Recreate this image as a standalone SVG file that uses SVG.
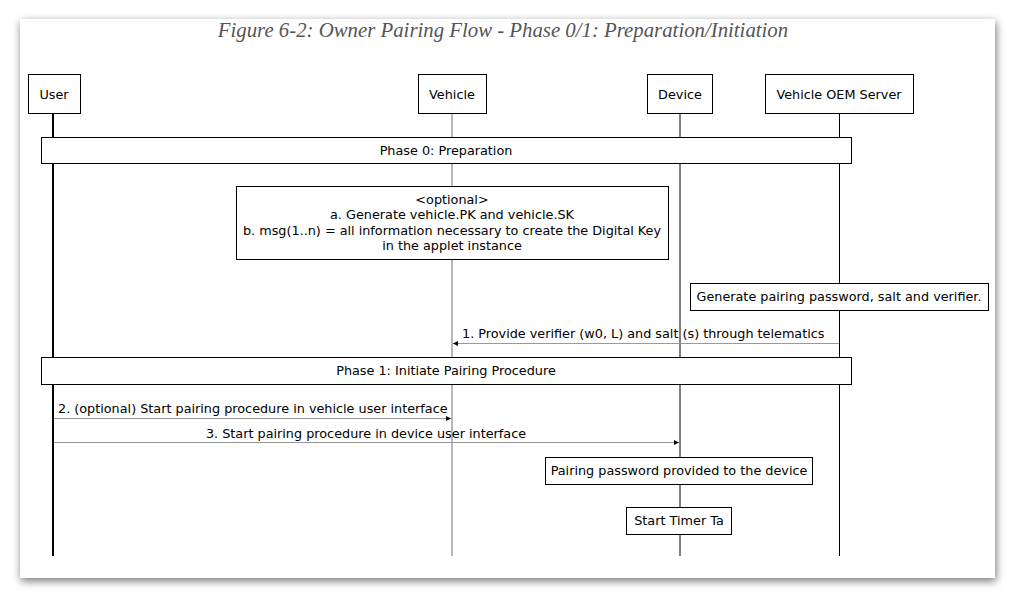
<svg xmlns="http://www.w3.org/2000/svg" width="1015" height="598" viewBox="0 0 1015 598">
<defs>
<filter id="sh" x="-5%" y="-5%" width="110%" height="115%">
<feDropShadow dx="1" dy="3" stdDeviation="4" flood-color="#000" flood-opacity="0.55"/>
</filter>
<marker id="ah" markerWidth="6" markerHeight="6" refX="5" refY="3" orient="auto" markerUnits="userSpaceOnUse">
<path d="M0,0.5 L5,3 L0,5.5 z" fill="#000"/>
</marker>
<style>
.t{font-family:"DejaVu Sans",Verdana,sans-serif;font-size:12.8px;fill:#000}
.box{fill:#fff;stroke:#000;stroke-width:1}
.msg{stroke:#999;stroke-width:1;fill:none}
</style>
</defs>
<rect x="0" y="0" width="1015" height="598" fill="#fff"/>
<rect x="20" y="19" width="975" height="559" fill="#fff" filter="url(#sh)"/>
<text x="503" y="37" text-anchor="middle" font-family="'Liberation Serif',serif" font-style="italic" font-size="20.8" fill="#555">Figure 6-2: Owner Pairing Flow - Phase 0/1: Preparation/Initiation</text>

<g id="lifelines">
<line x1="53" y1="113" x2="53" y2="556" stroke="#000" stroke-width="2"/>
<line x1="452" y1="113" x2="452" y2="556" stroke="#888" stroke-width="1.2"/>
<line x1="680" y1="113" x2="680" y2="556" stroke="#000" stroke-width="1"/>
<line x1="839.5" y1="113" x2="839.5" y2="556" stroke="#000" stroke-width="1"/>
</g>

<g id="user"><rect class="box" x="28.5" y="74.5" width="52" height="39"/><text class="t" x="54" y="99" text-anchor="middle">User</text></g>
<g id="vehicle"><rect class="box" x="418.5" y="74.5" width="68" height="39"/><text class="t" x="452" y="99" text-anchor="middle">Vehicle</text></g>
<g id="device"><rect class="box" x="647.5" y="74.5" width="65" height="39"/><text class="t" x="680" y="99" text-anchor="middle">Device</text></g>
<g id="oem"><rect class="box" x="765.5" y="74.5" width="148" height="39"/><text class="t" x="839" y="99" text-anchor="middle">Vehicle OEM Server</text></g>

<g id="phase0"><rect class="box" x="41.5" y="137.5" width="810" height="26"/><text class="t" x="446" y="155" text-anchor="middle">Phase 0: Preparation</text></g>

<g id="optional"><rect class="box" x="236.5" y="186.5" width="432" height="73"/>
<text class="t" text-anchor="middle"><tspan x="452" y="204">&lt;optional&gt;</tspan><tspan x="452" y="219">a. Generate vehicle.PK and vehicle.SK</tspan><tspan x="452" y="235">b. msg(1..n) = all information necessary to create the Digital Key</tspan><tspan x="452" y="250">in the applet instance</tspan></text></g>

<g id="generate"><rect class="box" x="690.5" y="283.5" width="298" height="27"/><text class="t" x="839" y="301" text-anchor="middle">Generate pairing password, salt and verifier.</text></g>

<g id="phase1"><rect class="box" x="41.5" y="357.5" width="810" height="27"/><text class="t" x="446" y="375" text-anchor="middle">Phase 1: Initiate Pairing Procedure</text></g>

<g id="pwd"><rect class="box" x="545.5" y="457.5" width="267" height="27"/><text class="t" x="679" y="475" text-anchor="middle">Pairing password provided to the device</text></g>
<g id="timer"><rect class="box" x="626.5" y="507.5" width="105" height="27"/><text class="t" x="679" y="525" text-anchor="middle">Start Timer Ta</text></g>

<g id="connectors">
<line class="msg" x1="839" y1="343.5" x2="453" y2="343.5" marker-end="url(#ah)"/>
<text class="t" x="462" y="338">1. Provide verifier (w0, L) and salt (s) through telematics</text>
<line class="msg" x1="54" y1="418.5" x2="451" y2="418.5" marker-end="url(#ah)"/>
<text class="t" x="58" y="413">2. (optional) Start pairing procedure in vehicle user interface</text>
<line class="msg" x1="54" y1="442.5" x2="679" y2="442.5" marker-end="url(#ah)"/>
<text class="t" x="366" y="438" text-anchor="middle">3. Start pairing procedure in device user interface</text>
</g>
</svg>
